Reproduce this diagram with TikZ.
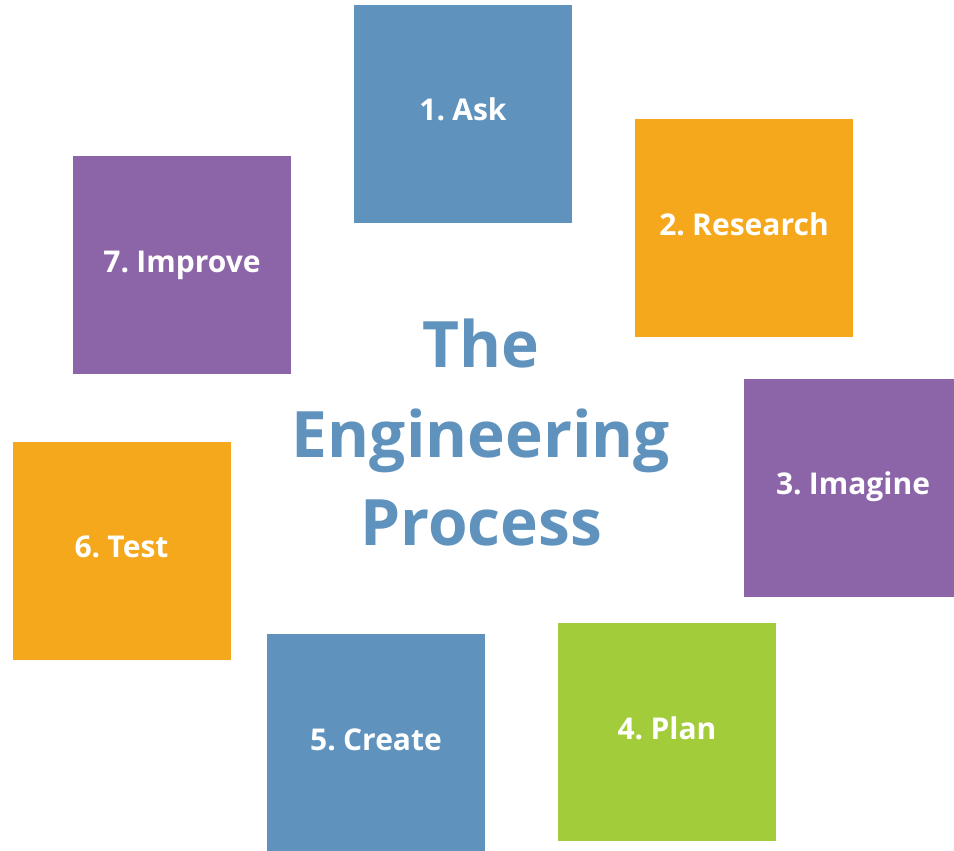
\documentclass[tikz,border=0pt]{standalone}
\usepackage{fontspec}
\setmainfont{Open Sans}[WordSpace=0.6]
\usepackage{tikz}

\definecolor{stepblue}{RGB}{95,147,190}
\definecolor{steporange}{RGB}{246,168,28}
\definecolor{steppurple}{RGB}{140,101,168}
\definecolor{stepgreen}{RGB}{162,204,58}

\tikzset{
  stepbox/.style={fill=#1, draw=none, minimum size=218pt, inner sep=0pt,
    text=white, font=\fontsize{30}{36}\selectfont\bfseries,
    text height=22pt, text depth=8pt},
  titleline/.style={text=stepblue, anchor=base, inner sep=0pt,
    font=\fontsize{64}{78}\selectfont\bfseries}
}

\begin{document}
\begin{tikzpicture}[x=1pt,y=-1pt]
\useasboundingbox (0,0) rectangle (954,851);

\node[stepbox=stepblue]   (ask)      at (463,114)   {1. Ask};
\node[stepbox=steporange] (research) at (744,228)   {2. Research};
\node[stepbox=steppurple] (imagine)  at (853,487.5) {3. Imagine};
\node[stepbox=stepgreen]  (plan)     at (667,732)   {4. Plan};
\node[stepbox=stepblue]   (create)   at (376,743)   {5. Create};
\node[stepbox=steporange] (test)     at (121.5,550.5) {6. Test};
\node[stepbox=steppurple] (improve)  at (182,265)   {7. Improve};

% title in the middle
\node[titleline] (title1) at (481,367) {The};
\node[titleline] (title2) at (481,457) {Engineering};
\node[titleline] (title3) at (481,545) {Process};
\end{tikzpicture}
\end{document}
